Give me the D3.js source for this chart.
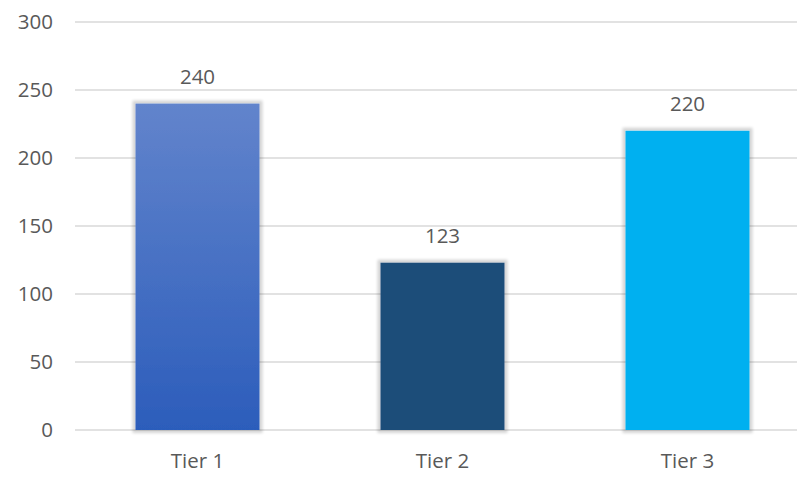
<!DOCTYPE html>
<html><head><meta charset="utf-8">
<script src="https://cdn.jsdelivr.net/npm/d3@7"></script>
<style>body{margin:0;background:#fff}svg{display:block}</style>
</head><body>
<svg id="c" width="797" height="485"></svg>
<script>
const categories = ["Tier 1", "Tier 2", "Tier 3"];
const values = [240, 123, 220];
const yTicks = [0, 50, 100, 150, 200, 250, 300];

const svg = d3.select("#c");
const x = d3.scaleBand().domain(categories).range([75, 810]).paddingInner(0.494).paddingOuter(0.247);
const y = d3.scaleLinear().domain([0, 300]).range([430, 22]);
const font = "'Open Sans', sans-serif";
const fs = 20.5;
const txt = "#595959";

const defs = svg.append("defs");
const g1 = defs.append("linearGradient").attr("id","g1").attr("x1",0).attr("y1",0).attr("x2",0).attr("y2",1);
g1.append("stop").attr("offset","0%").attr("stop-color","#6284cc");
g1.append("stop").attr("offset","100%").attr("stop-color","#2c5dbb");
const f = defs.append("filter").attr("id","sh").attr("x","-20%").attr("y","-20%").attr("width","140%").attr("height","140%");
f.append("feMorphology").attr("in","SourceAlpha").attr("operator","dilate").attr("radius",2.5).attr("result","d");
f.append("feGaussianBlur").attr("in","d").attr("stdDeviation",1.6).attr("result","b");
f.append("feComponentTransfer").attr("in","b").attr("result","c").append("feFuncA").attr("type","linear").attr("slope",0.17);
const m = f.append("feMerge");
m.append("feMergeNode").attr("in","c");
m.append("feMergeNode").attr("in","SourceGraphic");

// gridlines
svg.append("g").selectAll("line").data(yTicks).join("line")
  .attr("x1",75).attr("x2",800).attr("y1",d=>y(d)).attr("y2",d=>y(d))
  .attr("stroke","#d9d9d9").attr("stroke-width",1.3);

// y-axis labels
const ya = svg.append("g").attr("transform","translate(53,0)")
  .call(d3.axisLeft(y).tickValues(yTicks).tickSize(0).tickPadding(0));
ya.select(".domain").remove();
ya.selectAll("text").attr("font-family",font).attr("font-size",fs).attr("fill",txt);

const fills = ["url(#g1)", "#1f4e79", "#00b0f0"];
svg.append("g").selectAll("rect").data(values).join("rect")
  .attr("x",(d,i)=>x(categories[i])).attr("width",x.bandwidth())
  .attr("y",d=>y(d)).attr("height",d=>y(0)-y(d))
  .attr("fill",(d,i)=>fills[i]).attr("filter","url(#sh)");

// x-axis labels
const xa = svg.append("g").attr("transform","translate(0,447)")
  .call(d3.axisBottom(x).tickSize(0).tickPadding(6));
xa.select(".domain").remove();
xa.selectAll("text").attr("font-family",font).attr("font-size",fs).attr("fill",txt);

// value labels
svg.append("g").selectAll("text").data(values).join("text")
  .attr("x",(d,i)=>x(categories[i])+x.bandwidth()/2).attr("y",d=>y(d)-20)
  .attr("text-anchor","middle").attr("font-family",font).attr("font-size",fs).attr("fill",txt)
  .text(d=>d);
</script>
</body></html>
